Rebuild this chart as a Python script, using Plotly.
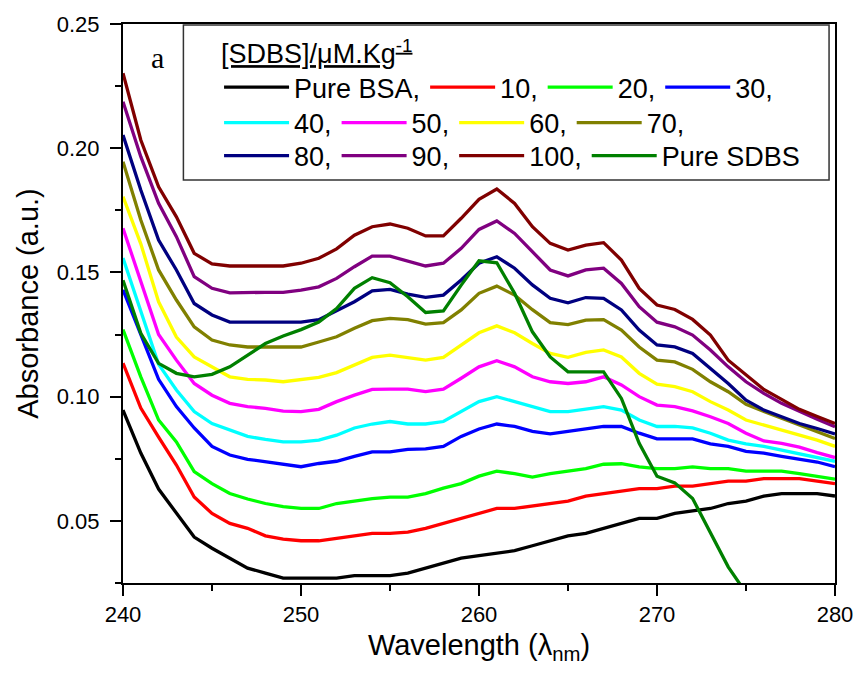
import plotly.graph_objects as go

wavelength = list(range(240, 281))

pure_bsa = [0.0946, 0.0773, 0.0628, 0.0531, 0.0435, 0.039, 0.035, 0.031, 0.029, 0.027,
            0.027, 0.027, 0.027, 0.028, 0.028, 0.028, 0.029, 0.031, 0.033, 0.035,
            0.036, 0.037, 0.038, 0.040, 0.042, 0.044, 0.045, 0.047, 0.049, 0.051,
            0.051, 0.053, 0.054, 0.055, 0.057, 0.058, 0.060, 0.061, 0.061, 0.061, 0.060]
sdbs_10 = [0.1135, 0.0954, 0.0837, 0.0725, 0.0596, 0.053, 0.049, 0.047, 0.044, 0.0427,
           0.042, 0.042, 0.043, 0.044, 0.045, 0.045, 0.0455, 0.047, 0.049, 0.051,
           0.053, 0.055, 0.055, 0.056, 0.057, 0.058, 0.060, 0.061, 0.062, 0.063,
           0.063, 0.064, 0.064, 0.065, 0.066, 0.066, 0.067, 0.067, 0.067, 0.066, 0.065]
sdbs_20 = [0.127, 0.108, 0.0906, 0.0818, 0.0698, 0.065, 0.061, 0.0588, 0.057, 0.0557,
           0.055, 0.055, 0.057, 0.058, 0.059, 0.0596, 0.0596, 0.061, 0.0632, 0.065,
           0.068, 0.070, 0.069, 0.0676, 0.069, 0.070, 0.071, 0.0728, 0.073, 0.0717,
           0.071, 0.071, 0.0717, 0.071, 0.071, 0.070, 0.070, 0.070, 0.069, 0.068, 0.0668]
sdbs_30 = [0.143, 0.125, 0.107, 0.096, 0.0874, 0.080, 0.0765, 0.0748, 0.0738, 0.0725,
           0.0718, 0.0731, 0.0740, 0.076, 0.0778, 0.0778, 0.0788, 0.079, 0.080, 0.084,
           0.087, 0.089, 0.088, 0.086, 0.085, 0.086, 0.087, 0.088, 0.088, 0.0853,
           0.083, 0.083, 0.083, 0.081, 0.080, 0.078, 0.0773, 0.076, 0.0749, 0.0737, 0.0718]
sdbs_40 = [0.1558, 0.134, 0.113, 0.1027, 0.094, 0.0892, 0.0866, 0.084, 0.0828, 0.0818,
           0.0818, 0.0825, 0.0845, 0.0874, 0.089, 0.090, 0.089, 0.089, 0.090, 0.094,
           0.098, 0.100, 0.098, 0.096, 0.094, 0.094, 0.095, 0.096, 0.0946, 0.0906,
           0.088, 0.088, 0.0874, 0.0853, 0.0825, 0.081, 0.080, 0.0785, 0.0773, 0.0758, 0.074]
sdbs_50 = [0.1678, 0.146, 0.125, 0.1147, 0.1053, 0.1006, 0.0973, 0.096, 0.0953, 0.0942,
           0.094, 0.0949, 0.098, 0.1006, 0.1029, 0.103, 0.103, 0.102, 0.103, 0.1074,
           0.112, 0.1145, 0.112, 0.108, 0.106, 0.1053, 0.106, 0.108, 0.1047, 0.100,
           0.0966, 0.096, 0.0943, 0.0919, 0.0892, 0.0853, 0.0822, 0.0812, 0.0797, 0.0775, 0.0755]
sdbs_60 = [0.1805, 0.1615, 0.1382, 0.124, 0.116, 0.112, 0.108, 0.107, 0.1067, 0.106,
           0.107, 0.1078, 0.1097, 0.1127, 0.1158, 0.1167, 0.1158, 0.1147, 0.1158, 0.1208,
           0.1257, 0.1285, 0.1257, 0.1214, 0.1174, 0.1158, 0.1178, 0.1188, 0.116, 0.1094,
           0.105, 0.104, 0.102, 0.098, 0.0946, 0.0906, 0.0886, 0.0866, 0.0845, 0.0825, 0.080]
sdbs_70 = [0.1946, 0.1711, 0.151, 0.1389, 0.1281, 0.1228, 0.1208, 0.120, 0.120, 0.120,
           0.120, 0.122, 0.1241, 0.1275, 0.1306, 0.1315, 0.131, 0.1292, 0.1298, 0.1349,
           0.1416, 0.1445, 0.1409, 0.135, 0.1298, 0.129, 0.1308, 0.131, 0.1268, 0.120,
           0.1147, 0.114, 0.111, 0.106, 0.102, 0.0969, 0.094, 0.0913, 0.0886, 0.0859, 0.0832]
sdbs_80 = [0.2053, 0.1832, 0.163, 0.151, 0.1375, 0.1329, 0.130, 0.130, 0.130, 0.130,
           0.130, 0.131, 0.1345, 0.1382, 0.1426, 0.1432, 0.1413, 0.140, 0.1409, 0.147,
           0.1537, 0.1563, 0.1517, 0.145, 0.1396, 0.1378, 0.1399, 0.1396, 0.1349, 0.1268,
           0.1208, 0.120, 0.1174, 0.1113, 0.1053, 0.0986, 0.0946, 0.0919, 0.0892, 0.0872, 0.085]
sdbs_90 = [0.2187, 0.1966, 0.1778, 0.1644, 0.1483, 0.1436, 0.1418, 0.142, 0.142, 0.142,
           0.1429, 0.1442, 0.1476, 0.1523, 0.1566, 0.1566, 0.1546, 0.1526, 0.1537, 0.1597,
           0.1673, 0.1707, 0.1657, 0.1583, 0.151, 0.1486, 0.151, 0.1517, 0.1456, 0.1362,
           0.130, 0.1281, 0.1248, 0.1188, 0.112, 0.106, 0.1013, 0.0973, 0.094, 0.0909, 0.0879]
sdbs_100 = [0.2302, 0.2033, 0.1845, 0.1724, 0.1577, 0.1534, 0.1526, 0.1526, 0.1526, 0.1526,
            0.1537, 0.1557, 0.1595, 0.165, 0.1684, 0.1695, 0.1678, 0.1647, 0.1647, 0.1718,
            0.1794, 0.1836, 0.1778, 0.1684, 0.1617, 0.159, 0.161, 0.162, 0.155, 0.1436,
            0.1369, 0.1351, 0.1311, 0.1248, 0.1147, 0.1087, 0.1029, 0.0989, 0.0949, 0.092, 0.0892]
pure_sdbs_x = list(range(240, 276))
pure_sdbs = [0.1469, 0.1255, 0.1134, 0.1094, 0.108, 0.109, 0.112, 0.1167, 0.1214, 0.1244,
             0.127, 0.130, 0.1355, 0.1436, 0.1479, 0.1459, 0.1402, 0.1339, 0.1345, 0.1449,
             0.1547, 0.1539, 0.1416, 0.1261, 0.116, 0.110, 0.110, 0.110, 0.0993, 0.0812,
             0.068, 0.0653, 0.059, 0.045, 0.0315, 0.021]

series_names = ["Pure BSA,", "10,", "20,", "30,", "40,", "50,", "60,", "70,",
                "80,", "90,", "100,", "Pure SDBS"]
series_values = [pure_bsa, sdbs_10, sdbs_20, sdbs_30, sdbs_40, sdbs_50, sdbs_60,
                 sdbs_70, sdbs_80, sdbs_90, sdbs_100, pure_sdbs]
series_colors = ["#000000", "#FF0000", "#00FF00", "#0000FF", "#00FFFF", "#FF00FF",
                 "#FFFF00", "#808000", "#000080", "#800080", "#800000", "#008000"]

FONT = "Liberation Sans, Arial, sans-serif"

fig = go.Figure()
for i, (name, vals, col) in enumerate(zip(series_names, series_values, series_colors)):
    xs = pure_sdbs_x if name == "Pure SDBS" else wavelength
    leg = "legend" if i < 4 else ("legend2" if i < 8 else "legend3")
    fig.add_trace(go.Scatter(x=xs, y=vals, mode="lines", name=name,
                             line=dict(color=col, width=3.3), legend=leg))

W, H = 865, 674
ML, MR, MT, MB = 123, 23, 24, 91
pw, ph = W - ML - MR, H - MT - MB

def px(x):
    return (x - ML) / pw

def py(y):
    return (H - MB - y) / ph

leg_common = dict(orientation="h", xanchor="left", yanchor="middle",
                  bgcolor="rgba(0,0,0,0)", borderwidth=0,
                  font=dict(family=FONT, size=27, color="black"),
                  itemwidth=65, tracegroupgap=0, itemclick=False)

fig.update_layout(
    width=W, height=H,
    margin=dict(l=ML, r=MR, t=MT, b=MB),
    paper_bgcolor="white", plot_bgcolor="white",
    font=dict(family=FONT, color="black"),
    legend=dict(**{**leg_common, "yanchor": "top"}, x=px(220), y=py(28),
                title=dict(text="<u>[SDBS]/μM.Kg<sup>-1</sup></u>", side="top",
                           font=dict(family=FONT, size=27))),
    legend2=dict(**leg_common, x=px(220), y=py(123)),
    legend3=dict(**leg_common, x=px(220), y=py(156)),
    xaxis=dict(range=[240, 280], dtick=10, tick0=240, ticks="outside", ticklen=11,
               tickwidth=2, tickcolor="black", showline=True, linewidth=2,
               linecolor="black", mirror=True, showgrid=False, zeroline=False,
               tickfont=dict(family=FONT, size=22),
               minor=dict(dtick=5, ticks="outside", ticklen=6, tickwidth=2, tickcolor="black"),
               title=dict(text="Wavelength (λ<sub>nm</sub>)", font=dict(family=FONT, size=29),
                          standoff=8)),
    xaxis2=dict(range=[240, 280], overlaying="x", anchor="y", side="top", dtick=5, tick0=240,
                ticks="outside", ticklen=5, tickwidth=1.5, tickcolor="black",
                showticklabels=False, showline=False, showgrid=False, zeroline=False),
    yaxis=dict(range=[0.025, 0.25], dtick=0.05, tick0=0, tickformat=".2f", ticks="outside",
               ticklen=11, tickwidth=2, tickcolor="black", showline=True, linewidth=2,
               linecolor="black", mirror=True, showgrid=False, zeroline=False,
               ticklabelstandoff=6,
               tickfont=dict(family=FONT, size=22),
               minor=dict(dtick=0.025, ticks="outside", ticklen=6, tickwidth=2, tickcolor="black"),
               title=dict(text="Absorbance (a.u.)", font=dict(family=FONT, size=29),
                          standoff=10)),
    shapes=[dict(type="rect", xref="paper", yref="paper", x0=px(184), x1=px(836),
                 y0=py(180), y1=py(25), line=dict(color="#333333", width=1.5),
                 fillcolor="rgba(0,0,0,0)")],
    annotations=[dict(text="a", xref="paper", yref="paper", x=px(158), y=py(58),
                      showarrow=False, xanchor="center", yanchor="middle",
                      font=dict(family="Liberation Serif, Times New Roman, serif", size=30))],
)

fig.write_html("out.html")
